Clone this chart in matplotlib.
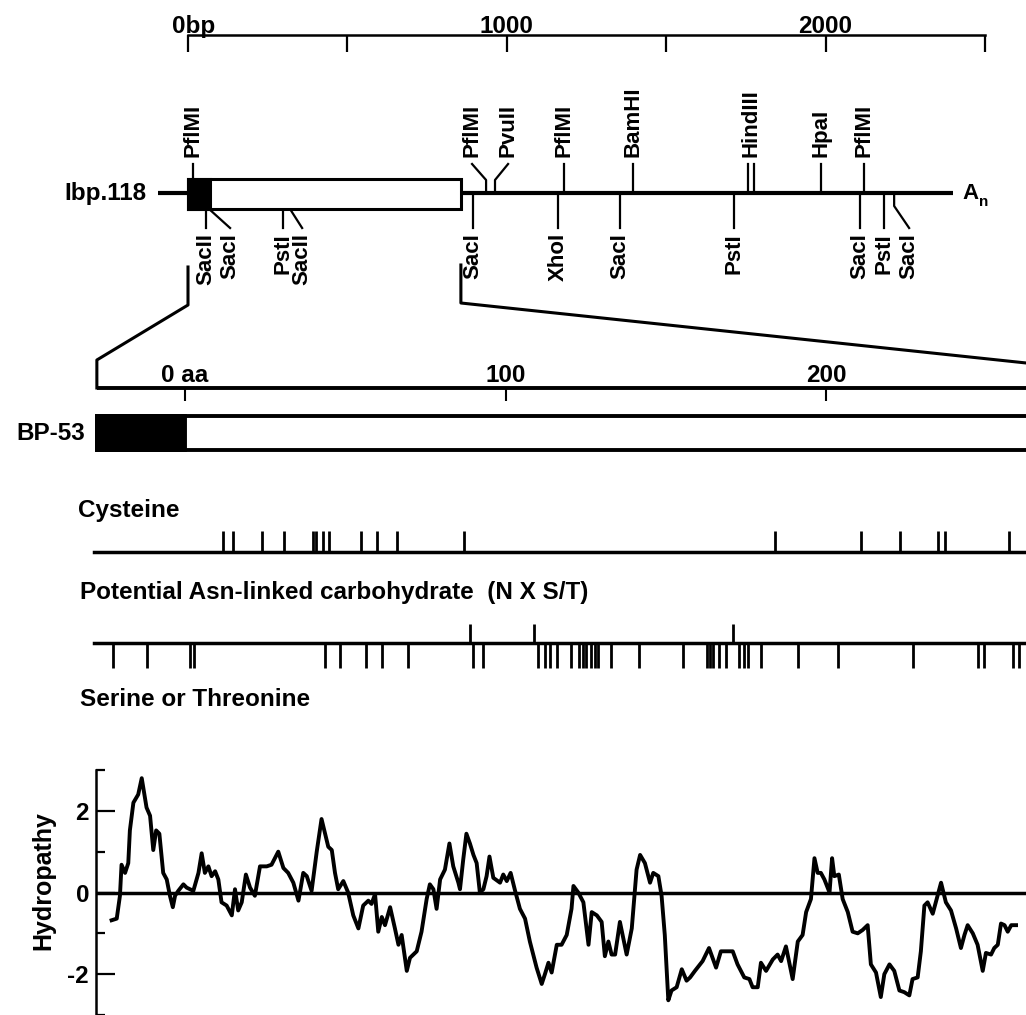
import matplotlib.pyplot as plt
from matplotlib.patches import Rectangle

plt.rcParams['font.family'] = ['Liberation Sans', 'DejaVu Sans']
plt.rcParams['font.weight'] = 'bold'

#%% data
scale_bp = [0, 500, 1000, 1500, 2000, 2500]
scale_labels = ['0bp', '', '1000', '', '2000', '']
clone_bp = (-94, 2400)
orf_bp = (0, 856)
signal_bp = 70
# (enzyme, site bp, label bp)
sites_above = [('PflMI', 16, 16), ('PflMI', 935, 891), ('PvuII', 963, 1004),
               ('PflMI', 1179, 1179), ('BamHI', 1396, 1396),
               ('HindIII', 1757, 1766), ('', 1775, 1775),
               ('HpaI', 1986, 1986), ('PflMI', 2120, 2120)]
sites_below = [('SacII', 56, 56), ('SacI', 66, 132), ('PstI', 298, 298),
               ('SacII', 320, 358), ('SacI', 894, 894), ('XhoI', 1161, 1161),
               ('SacI', 1355, 1355), ('PstI', 1713, 1713), ('SacI', 2108, 2108),
               ('PstI', 2183, 2183), ('SacI', 2215, 2262)]

aa_ticks = [0, 100, 200]
aa_labels = ['0 aa', '100', '200']
signal_aa = -27.5
mature_aa = 264
bracket_end_aa = 336

cys_aa = [12, 15, 24, 31, 40, 41, 43, 45, 55, 60, 66, 87,
          184, 211, 223, 235, 237, 257]
asn_aa = [89, 109, 171]
ser_thr_aa = [-22.5, -11.9, 1.6, 2.8, 43.7, 48.4, 56.5, 61.5, 69.6, 89.9,
              93.0, 110.1, 112.3, 113.9, 116.1, 120.4, 122.9, 124.2, 125.1,
              126.7, 127.9, 128.9, 132.9, 141.7, 155.4, 162.9, 163.8, 164.8,
              166.6, 168.8, 172.9, 174.4, 175.7, 179.7, 191.2, 203.7, 227.1,
              247.4, 249.3, 258.3, 260.2]

hyd_aa = [-22.9, -21.3, -20.3, -19.8, -18.7, -17.7, -17.2, -16.1, -14.6, -13.5,
          -13.0, -12.0, -10.9, -9.9, -9.0, -8.0, -6.8, -5.7, -4.7, -3.8,
          -3.1, -2.1, -0.5, 0.5, 2.6, 4.2, 5.2, 6.2, 7.3, 8.3,
          9.4, 10.4, 11.4, 13.0, 14.6, 15.6, 16.6, 17.7, 19.0, 20.3,
          21.8, 23.4, 25.5, 27.0, 29.1, 30.7, 32.2, 33.8, 35.4, 36.9,
          38.0, 39.5, 41.1, 42.6, 43.7, 44.7, 45.8, 46.8, 47.8,
          49.4, 50.9, 52.5, 54.1, 55.6, 57.2, 58.2, 59.3, 60.3, 61.4,
          62.4, 64.0, 65.5, 66.6, 67.6, 69.2, 70.2, 72.3, 73.8, 75.4,
          76.4, 77.5, 78.5, 79.6, 81.1, 82.5, 83.7, 85.3, 85.8, 86.8,
          87.8, 88.9, 90.0, 91.0, 92.0, 93.1, 94.1, 95.0, 96.2, 98.3,
          99.3, 100.4, 101.6, 103.0, 104.5, 106.1, 107.6, 109.7, 111.3, 112.3,
          113.4, 114.4, 116.0, 117.5, 119.1, 120.6, 121.2, 122.7, 124.3, 125.9,
          126.9, 128.5, 130.0, 131.0, 132.1, 133.1, 134.2, 135.7, 137.8, 139.4,
          140.9, 142.0, 143.5, 145.1, 146.1, 147.7, 148.7, 149.7, 150.8, 151.8,
          153.4, 155.0, 156.5, 157.6, 159.1, 160.7,
          161.5, 163.5, 165.7, 167.2, 170.9, 172.4, 174.5, 176.1, 177.1, 178.7,
          179.7, 181.3, 183.4, 184.9, 186.0, 187.5, 189.6, 191.2, 192.7, 193.8,
          195.3, 196.4, 197.4, 198.4, 199.5, 201.1, 201.9, 202.6, 204.0, 205.2,
          206.8, 208.3, 209.9, 211.4, 213.0, 214.0, 215.6, 217.1, 218.2, 219.8,
          221.3, 222.9, 224.4, 226.0, 227.0, 228.6, 229.6, 230.7, 231.7, 233.3,
          234.8, 235.9, 237.4, 239.0, 240.6, 242.1, 243.2, 244.2, 245.8, 247.3,
          248.9, 249.9, 251.5, 252.5, 253.6, 254.6, 255.7, 256.7, 257.8, 259.3]
hyd_val = [-0.68, -0.64, -0.08, 0.68, 0.48, 0.72, 1.52, 2.2, 2.4, 2.8,
           2.56, 2.08, 1.88, 1.04, 1.52, 1.44, 0.48, 0.32, -0.08, -0.36,
           -0.08, 0.04, 0.2, 0.12, 0.04, 0.48, 0.96, 0.48, 0.64, 0.4,
           0.52, 0.32, -0.24, -0.32, -0.56, 0.08, -0.44, -0.24, 0.44, 0.12,
           -0.08, 0.64, 0.64, 0.68, 1.0, 0.6, 0.48, 0.24, -0.2, 0.48,
           0.4, 0.04, 1.0, 1.8, 1.44, 1.12, 1.04, 0.48, 0.08,
           0.28, 0.0, -0.56, -0.88, -0.32, -0.2, -0.28, -0.04, -0.96, -0.6,
           -0.8, -0.36, -0.88, -1.28, -1.04, -1.92, -1.6, -1.44, -0.96, -0.16,
           0.2, 0.08, -0.4, 0.32, 0.56, 1.2, 0.64, 0.24, 0.08, 0.8,
           1.44, 1.2, 0.92, 0.72, 0.0, 0.08, 0.4, 0.88, 0.36, 0.24,
           0.44, 0.28, 0.48, 0.04, -0.4, -0.64, -1.2, -1.84, -2.24, -2.0,
           -1.72, -1.96, -1.28, -1.28, -1.04, -0.4, 0.16, 0.0, -0.24, -1.28,
           -0.48, -0.56, -0.72, -1.56, -1.2, -1.52, -1.52, -0.72, -1.52, -0.88,
           0.56, 0.92, 0.72, 0.24, 0.48, 0.4, -0.08, -1.04, -2.64, -2.4,
           -2.32, -1.88, -2.16, -2.08, -1.92, -1.76,
           -1.68, -1.36, -1.84, -1.44, -1.44, -1.76, -2.08, -2.12, -2.32, -2.32,
           -1.72, -1.92, -1.64, -1.52, -1.68, -1.32, -2.12, -1.2, -1.04, -0.48,
           -0.16, 0.84, 0.48, 0.48, 0.32, 0.0, 0.84, 0.4, 0.44, -0.16,
           -0.48, -0.96, -1.0, -0.92, -0.8, -1.76, -1.96, -2.56, -2.0, -1.76,
           -1.92, -2.4, -2.44, -2.52, -2.12, -2.08, -1.44, -0.32, -0.24, -0.52,
           -0.08, 0.24, -0.24, -0.44, -0.88, -1.36, -1.04, -0.8, -1.0, -1.28,
           -1.92, -1.48, -1.52, -1.36, -1.28, -0.76, -0.8, -0.96, -0.8, -0.8]

#%% layout (pixel rows, top = 0)
W, H = 1026, 1015
bp0_px, px_per_bp = 188, 0.3188
aa0_px, px_per_aa = 185, 3.205
fs = 17.5

fig = plt.figure(figsize=(W / 100, H / 100), dpi=100)

ax_bp = fig.add_axes([0, 0, 1, 1])
ax_bp.set_xlim(-bp0_px / px_per_bp, (W - bp0_px) / px_per_bp)
ax_bp.set_ylim(H, 0)
ax_bp.axis('off')

ax_aa = fig.add_axes([0, 0, 1, 1])
ax_aa.set_xlim(-aa0_px / px_per_aa, (W - aa0_px) / px_per_aa)
ax_aa.set_ylim(H, 0)
ax_aa.axis('off')

#%% bp scale
ax_bp.plot([scale_bp[0], scale_bp[-1]], [35, 35], 'k-', lw=1.8)
ax_bp.vlines(scale_bp, 35, 52, colors='k', lw=1.6)
for b, lab in zip(scale_bp, scale_labels):
    if lab:
        ax_bp.annotate(lab, (b, 33), xytext=(6 if b == 0 else 0, 0),
                       textcoords='offset pixels', ha='center', va='baseline',
                       fontsize=fs)

#%% restriction map
ax_bp.plot(clone_bp, [193, 193], 'k-', lw=3.0, solid_capstyle='butt', zorder=2)
ax_bp.add_patch(Rectangle((orf_bp[0], 179), orf_bp[1] - orf_bp[0], 30,
                          fc='white', ec='k', lw=2.2, zorder=3))
ax_bp.add_patch(Rectangle((orf_bp[0], 179), signal_bp, 30,
                          fc='k', ec='k', lw=2.2, zorder=4))
ax_bp.annotate('Ibp.118', (clone_bp[0], 193), xytext=(-12, 0),
               textcoords='offset pixels', ha='right', va='center', fontsize=fs)
ax_bp.annotate('A', (clone_bp[1], 193), xytext=(9, 0),
               textcoords='offset pixels', ha='left', va='center', fontsize=16)
ax_bp.annotate('n', (clone_bp[1], 193), xytext=(26, -9),
               textcoords='offset pixels', ha='left', va='center', fontsize=11)


def draw_site(name, b, lb, above):
    in_box = orf_bp[0] <= b <= orf_bp[1]
    if above:
        base, end, ty, va, sgn = (179 if in_box else 193), 164, 157, 'bottom', -1
    else:
        base, end, ty, va, sgn = (209 if in_box else 193), 228, 233, 'top', 1
    if abs(lb - b) < 15:
        xs, ys = [b, b], [base, end]
    else:
        knee = base if in_box else base + sgn * 13
        xs, ys = [b, b, lb], [base, knee, end]
    ax_bp.plot(xs, ys, 'k-', lw=1.6, zorder=2)
    if name:
        ax_bp.text(lb, ty, name, rotation=90, ha='center', va=va, fontsize=16)


for name, b, lb in sites_above:
    draw_site(name, b, lb, True)
for name, b, lb in sites_below:
    draw_site(name, b, lb, False)


def bp_to_aa(b):
    px = ax_bp.transData.transform((b, 0))[0]
    return ax_aa.transData.inverted().transform((px, 0))[0]


#%% zoom brackets
ax_aa.plot([bp_to_aa(orf_bp[0])] * 2 + [signal_aa] * 2, [267, 305, 360, 388],
           'k-', lw=2.2)
ax_aa.plot([bp_to_aa(orf_bp[1])] * 2 + [bracket_end_aa], [265, 303, 388],
           'k-', lw=2.2)

#%% aa scale and BP-53 bar
ax_aa.plot([signal_aa, bracket_end_aa], [388, 388], 'k-', lw=2.8,
           solid_capstyle='butt')
ax_aa.vlines(aa_ticks, 388, 401, colors='k', lw=1.5)
for a, lab in zip(aa_ticks, aa_labels):
    ax_aa.text(a, 382, lab, ha='center', va='baseline', fontsize=fs)

ax_aa.add_patch(Rectangle((signal_aa, 416), mature_aa - signal_aa, 34,
                          fc='white', ec='k', lw=2.8))
ax_aa.add_patch(Rectangle((signal_aa, 416), -signal_aa, 34,
                          fc='k', ec='k', lw=2.8))
ax_aa.annotate('BP-53', (signal_aa, 433), xytext=(-12, 0),
               textcoords='offset pixels', ha='right', va='center', fontsize=fs)

#%% residue rows
row_x0 = -28.4
ax_aa.text(-33.4, 510, 'Cysteine', ha='left', va='center', fontsize=fs)
ax_aa.plot([row_x0, 280], [552, 552], 'k-', lw=2.5)
ax_aa.vlines(cys_aa, 531, 552, colors='k', lw=2.0)

ax_aa.text(-32.8, 593, 'Potential Asn-linked carbohydrate  (N X S/T)',
           ha='left', va='center', fontsize=fs)
ax_aa.plot([row_x0, 280], [643, 643], 'k-', lw=2.5)
ax_aa.vlines(asn_aa, 624, 643, colors='k', lw=2.0)
ax_aa.vlines(ser_thr_aa, 643, 668, colors='k', lw=2.0)
ax_aa.text(-32.8, 700, 'Serine or Threonine', ha='left', va='center',
           fontsize=fs)

#%% hydropathy
hx0 = 96
ax_h = fig.add_axes([hx0 / W, 0, (W - hx0) / W, 245 / H])
ax_h.set_xlim((hx0 - aa0_px) / px_per_aa, (W - aa0_px) / px_per_aa)
ax_h.set_ylim(-2.976, 3.0)
ax_h.patch.set_visible(False)
for s in ['top', 'right', 'bottom']:
    ax_h.spines[s].set_visible(False)
ax_h.spines['left'].set_linewidth(1.8)
ax_h.set_xticks([])
ax_h.set_yticks([-2, 0, 2])
ax_h.set_yticklabels(['-2', '0', '2'])
ax_h.set_yticks([-3, -1, 1, 3], minor=True)
ax_h.tick_params(axis='y', which='major', direction='in', length=13.5,
                 width=1.6, labelsize=fs, pad=5)
ax_h.tick_params(axis='y', which='minor', direction='in', length=6.5,
                 width=1.6)
ax_h.axhline(0, color='k', lw=2.5)
ax_h.plot(hyd_aa, hyd_val, 'k-', lw=2.8)
fig.text(43 / W, 1 - 881 / H, 'Hydropathy', rotation=90, ha='center',
         va='center', fontsize=18)

plt.savefig('out.png', dpi=100)
